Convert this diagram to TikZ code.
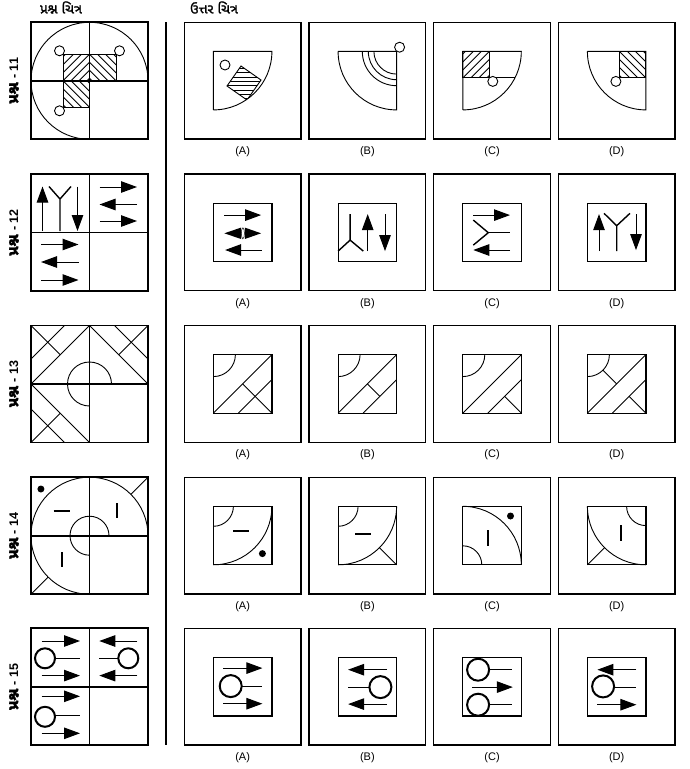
\documentclass[tikz,border=0pt]{standalone}
\usepackage{fontspec}
\setmainfont{Liberation Sans}
\newfontfamily\gujb[Script=Gujarati,FakeBold=1.5]{Noto Sans Gujarati UI}
\usetikzlibrary{arrows.meta}
\tikzset{
  qframe/.style={line width=1.8pt},
  abox/.style={line width=1.2pt},
  fig/.style={line width=0.9pt},
  yl/.style={line width=1.4pt},
  dsh/.style={line width=2pt},
  ring/.style={line width=2pt},
  arr/.style={line width=1pt,-{Triangle[length=16pt,width=11.5pt]}},
  lab/.style={font=\fontsize{11}{13}\selectfont,inner sep=0pt},
  rowlab/.style={font=\fontsize{12.5}{14}\selectfont\bfseries,inner sep=0pt,rotate=90},
  head/.style={font=\fontsize{13.5}{15}\selectfont,inner sep=0pt}
}
\newcommand\hatchsq[4]{%
  \begin{scope}
    \clip (#1,#2) rectangle ++(#3,#3);
    \foreach \k in {-6,...,6}{%
      \ifnum#4=1
        \draw[fig] ({#1+#3/2+8*\k-40},{#2+#3/2+40}) -- ++(80,-80);
      \else
        \draw[fig] ({#1+#3/2+8*\k-40},{#2+#3/2-40}) -- ++(80,80);
      \fi}
  \end{scope}
  \draw[fig] (#1,#2) rectangle ++(#3,#3);}
\newcommand\patbase{%
  \draw[fig] (0,22) arc[start angle=90,end angle=0,radius=22];
  \draw[fig] (0,58.5) -- (58.5,0) (25,58.5) -- (58.5,25);}
\begin{document}
\begin{tikzpicture}[x=1pt,y=-1pt,line join=miter]
\useasboundingbox (0,0) rectangle (690,769);
\fill[white] (0,0) rectangle (690,769);

% headers
\node[head] (h1) at (61,7.5) {\gujb પ્રશ્ન ચિત્ર};
\node[head] (h2) at (214,7.5) {\gujb ઉત્તર ચિત્ર};
\draw[line width=1.4pt] (166,22) -- (166,745);

% frames, boxes, labels
\foreach \T [count=\r] in {22.3,174,325.5,477.2,628.3} {
  \pgfmathtruncatemacro\qn{10+\r}
  \node[rowlab] (row-\r) at (14,\T+58.5) {{\gujb\fontsize{15}{16}\selectfont પ્રશ્ન} - \qn};
  \foreach \L/\t [count=\j] in {184.3/A,309/B,433.7/C,558.3/D} {
    \draw[abox] (\L,\T) rectangle ++(116.7,116.7);
    \ifnum\r>1 \draw[abox] (\L+29.1,\T+29.1) rectangle ++(58.5,58.5); \fi
    \node[lab] (lab-\r-\j) at (\L+58.35,\T+129.4) {(\t)};
  }
}

% ===== Q11 =====
\draw[fig] (89.5,139.3) arc[start angle=90,end angle=360,radius=58.5];
\hatchsq{63}{54.3}{26.5}{1}
\hatchsq{89.5}{54.3}{26.5}{0}
\hatchsq{63}{80.8}{26.5}{0}
\draw[fig,fill=white] (59.5,50.8) circle[radius=5];
\draw[fig,fill=white] (119.5,50.8) circle[radius=5];
\draw[fig,fill=white] (59.5,110.8) circle[radius=5];
% A
\draw[fig] (213.4,109.9) -- (213.4,51.4) -- (271.9,51.4) arc[start angle=0,end angle=90,radius=58.5];
\draw[fig] (225,65) circle[radius=5];
\begin{scope}
  \clip (241,66) -- (261,80) -- (247,100) -- (227,86) -- cycle;
  \clip (213.4,51.4) circle[radius=58.5];
  \foreach \k in {0,...,8} \draw[fig] (220,{68.5+4.3*\k}) -- (270,{68.5+4.3*\k});
\end{scope}
\begin{scope}
  \clip (213.4,51.4) circle[radius=58.5];
  \draw[fig] (241,66) -- (261,80) -- (247,100) -- (227,86) -- cycle;
\end{scope}
% B
\draw[fig] (338.1,51.4) -- (396.6,51.4) -- (396.6,109.9) arc[start angle=90,end angle=180,radius=58.5];
\foreach \rr in {22.7,28.3,34.3} \draw[fig] ({396.6-\rr},51.4) arc[start angle=180,end angle=90,radius=\rr];
\draw[fig,fill=white] (399.6,47.2) circle[radius=5];
% C
\draw[fig] (462.8,109.9) -- (462.8,51.4) -- (521.3,51.4) arc[start angle=0,end angle=90,radius=58.5];
\hatchsq{462.8}{51.4}{26.5}{1}
\draw[fig] (489.3,77.9) -- (515,77.9);
\draw[fig,fill=white] (492.8,81.4) circle[radius=5];
% D
\draw[fig] (587.4,51.4) -- (645.9,51.4) -- (645.9,109.9) arc[start angle=90,end angle=180,radius=58.5];
\hatchsq{619.4}{51.4}{26.5}{0}
\draw[fig,fill=white] (615.9,81.4) circle[radius=5];

% ===== Q12 =====
\begin{scope}[shift={(31,174)}]
  \draw[arr] (11.5,57) -- (11.5,12.5);
  \draw[yl] (29,57) -- (29,25) (18,12.5) -- (29,25) -- (40,12.5);
  \draw[arr] (46.5,12.5) -- (46.5,57);
\end{scope}
\begin{scope}[shift={(89.5,174)}]
  \draw[arr] (10,13) -- (47.5,13);
  \draw[arr] (47.5,30.5) -- (10,30.5);
  \draw[arr] (10,47) -- (47.5,47);
\end{scope}
\begin{scope}[shift={(31,232.5)}]
  \draw[arr] (10,12) -- (47.5,12);
  \draw[arr] (47.5,29.5) -- (10,29.5);
  \draw[arr] (10,47.5) -- (47.5,47.5);
\end{scope}
\begin{scope}[shift={(213.4,203.1)}]
  \draw[arr] (11,12) -- (47.7,12);
  \fill (11,30.2) -- (27.6,24.5) -- (27.6,35.9) -- cycle;
  \fill (47.7,30.2) -- (31.4,24.5) -- (31.4,35.9) -- cycle;
  \draw[line width=0.5pt] (29.5,30.2) ellipse[x radius=1.5, y radius=5.5];
  \draw[arr] (48.3,46.9) -- (11.7,46.9);
\end{scope}
\begin{scope}[shift={(338.1,203.1)}]
  \draw[yl] (12,11) -- (12,37) (0,48) -- (12,37) -- (25.2,48);
  \draw[arr] (29.6,48) -- (29.6,11);
  \draw[arr] (46.9,11) -- (46.9,48);
\end{scope}
\begin{scope}[shift={(462.8,203.1)}]
  \draw[arr] (10.5,12) -- (47.2,12);
  \draw[yl] (10.5,17) -- (25.5,29.6) -- (10.5,42);
  \draw[fig] (25.5,29.6) -- (47.2,29.6);
  \draw[arr] (47.2,46.9) -- (10.5,46.9);
\end{scope}
\begin{scope}[shift={(587.4,203.1)}]
  \draw[arr] (11.6,48) -- (11.6,11);
  \draw[yl] (16.6,10.2) -- (29.3,22.6) -- (42.6,10.2) (29.3,22.6) -- (29.3,48);
  \draw[arr] (48.6,11) -- (48.6,47);
\end{scope}

% ===== Q13 =====
\foreach \a in {90,180,-90}{
  \begin{scope}[shift={(89.5,384)},rotate=\a]
    \patbase
    \draw[fig] (29.25,29.25) -- (58.5,58.5);
  \end{scope}}
\begin{scope}[shift={(213.4,354.6)}]
  \patbase \draw[fig] (29.25,29.25) -- (58.5,58.5);
\end{scope}
\begin{scope}[shift={(338.1,354.6)}]
  \patbase \draw[fig] (29.25,29.25) -- (41.75,41.75);
\end{scope}
\begin{scope}[shift={(462.8,354.6)}]
  \patbase \draw[fig] (41.75,41.75) -- (58.5,58.5);
\end{scope}
\begin{scope}[shift={(587.4,354.6)}]
  \patbase \draw[fig] (41.75,41.75) -- (58.5,58.5) (15.56,15.56) -- (29.25,29.25);
\end{scope}

% ===== Q14 =====
\draw[fig] (89.5,594.2) arc[start angle=90,end angle=360,radius=58.5];
\draw[fig] (89.5,555.2) arc[start angle=90,end angle=360,radius=19.5];
\fill (40.9,489) circle[radius=3.5];
\draw[dsh] (53.5,510.7) -- (70.2,510.7);
\draw[fig] (148,477.2) -- (130.9,494.3);
\draw[dsh] (116.8,503.4) -- (116.8,518.4);
\draw[fig] (31,594.2) -- (48.1,577.1);
\draw[dsh] (61.8,552.4) -- (61.8,566.7);
\begin{scope}[shift={(213.4,506.3)}]
  \draw[fig] (0,20) arc[start angle=90,end angle=0,radius=20];
  \draw[fig] (58.5,0) arc[start angle=0,end angle=90,radius=58.5];
  \draw[dsh] (20,24.7) -- (35.7,24.7);
  \fill (49,47.3) circle[radius=3.5];
\end{scope}
\begin{scope}[shift={(338.1,506.3)}]
  \draw[fig] (0,20) arc[start angle=90,end angle=0,radius=20];
  \draw[fig] (58.5,0) arc[start angle=0,end angle=90,radius=58.5];
  \draw[dsh] (17.3,28) -- (33.3,28);
  \draw[fig] (58.5,58.5) -- (41.4,41.4);
\end{scope}
\begin{scope}[shift={(462.8,506.3)}]
  \draw[fig] (0,0) arc[start angle=270,end angle=360,radius=58.5];
  \draw[fig] (0,39.5) arc[start angle=270,end angle=360,radius=19];
  \draw[dsh] (24.7,24) -- (24.7,39.7);
  \fill (47.7,9.7) circle[radius=3.5];
\end{scope}
\begin{scope}[shift={(587.4,506.3)}]
  \draw[fig] (0,0) arc[start angle=180,end angle=90,radius=58.5];
  \draw[fig] (39.2,0) arc[start angle=180,end angle=90,radius=19.3];
  \draw[dsh] (33.3,19) -- (33.3,35);
  \draw[fig] (0,58.5) -- (17.1,41.4);
\end{scope}

% ===== Q15 =====
\begin{scope}[shift={(31,628.3)}]
  \draw[arr] (10.7,12.7) -- (49,12.7);
  \draw[ring] (14,30) circle[radius=10];
  \draw[fig] (24,30) -- (49,30);
  \draw[arr] (10.7,47.3) -- (49,47.3);
\end{scope}
\begin{scope}[shift={(89.5,628.3)}]
  \draw[arr] (47.8,12.7) -- (9.8,12.7);
  \draw[ring] (38.8,30) circle[radius=10];
  \draw[fig] (9.8,30) -- (28.8,30);
  \draw[arr] (47.8,47.3) -- (9.8,47.3);
\end{scope}
\begin{scope}[shift={(31,686.8)}]
  \draw[arr] (10.7,9.5) -- (49,9.5);
  \draw[ring] (14,30) circle[radius=10];
  \draw[fig] (24,29) -- (49,29);
  \draw[arr] (10.7,46.5) -- (49,46.5);
\end{scope}
\begin{scope}[shift={(213.4,657.4)}]
  \draw[arr] (10,10.7) -- (49,10.7);
  \draw[ring] (17.3,28.7) circle[radius=11];
  \draw[fig] (28.3,28.7) -- (49,28.7);
  \draw[arr] (10,46.3) -- (49,46.3);
\end{scope}
\begin{scope}[shift={(338.1,657.4)}]
  \draw[arr] (49,12.3) -- (10,12.3);
  \draw[ring] (42.3,29.7) circle[radius=11];
  \draw[fig] (10,29.7) -- (31.3,29.7);
  \draw[arr] (49,46.7) -- (10,46.7);
\end{scope}
\begin{scope}[shift={(462.8,657.4)}]
  \draw[ring] (15.3,12.3) circle[radius=11];
  \draw[fig] (26.3,12.3) -- (49.3,12.3);
  \draw[arr] (9.3,29.7) -- (50,29.7);
  \draw[ring] (15.3,47.3) circle[radius=11];
  \draw[fig] (26.3,46.7) -- (49.3,46.7);
\end{scope}
\begin{scope}[shift={(587.4,657.4)}]
  \draw[arr] (49,12.3) -- (10,12.3);
  \draw[ring] (15.7,29) circle[radius=11];
  \draw[fig] (26.7,29.7) -- (49,29.7);
  \draw[arr] (10,47.3) -- (49,47.3);
\end{scope}

% question frames on top
\foreach \T in {22.3,174,325.5,477.2,628.3} {
  \draw[qframe] (31,\T) rectangle ++(117,117);
  \draw[qframe] (89.5,\T) -- ++(0,117);
  \draw[qframe] (31,\T+58.5) -- ++(117,0);
}
\end{tikzpicture}
\end{document}
